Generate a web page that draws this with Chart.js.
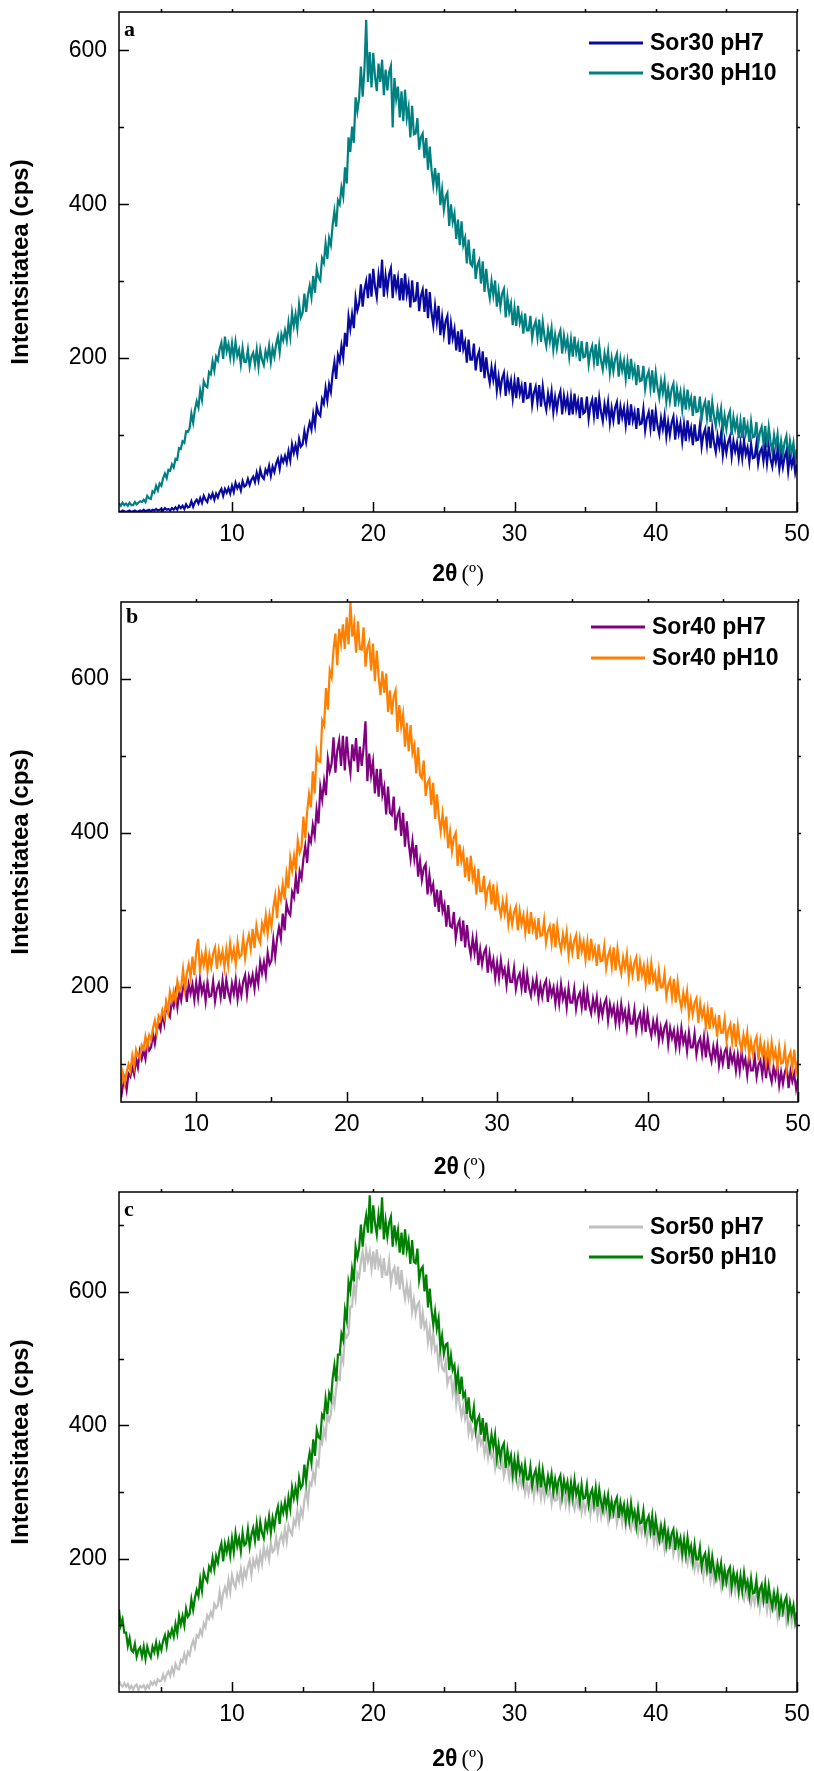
<!DOCTYPE html>
<html><head><meta charset="utf-8">
<script src="https://cdn.jsdelivr.net/npm/chart.js@4.4.1/dist/chart.umd.min.js"></script>
<style>
html,body{margin:0;padding:0;background:#fff;}
body{width:814px;height:1771px;position:relative;overflow:hidden;}
.panel{position:absolute;left:0;width:814px;}
canvas{display:block;}
</style></head><body>
<div class="panel" style="top:0;height:590px"><canvas id="ca" width="814" height="590"></canvas></div>
<div class="panel" style="top:590px;height:590px"><canvas id="cb" width="814" height="590"></canvas></div>
<div class="panel" style="top:1180px;height:591px"><canvas id="cc" width="814" height="591"></canvas></div>
<script>
const startAC = 2, startB = 5, step2theta = 0.125;

const sor30pH7 = [
1,0,2,1,0,1,2,0, 1,2,0,1,2,1,3,1, 2,3,1,3,2,4,2,3, 4,2,5,3,4,2,5,3,
6,3,8,5,8,4,10,6, 7,14,7,13,16,11,18,12, 21,16,13,22,18,24,16,24, 19,26,30,21,30,25,31,24,
34,26,38,31,36,28,40,33, 35,43,35,42,46,39,51,41, 55,46,43,55,50,60,47,59, 52,63,69,56,71,65,73,64,
79,67,88,77,87,75,95,85, 88,105,91,106,116,107,127,113, 137,128,125,147,141,161,145,166, 156,180,195,173,204,196,216,201,
233,215,254,238,257,239,278,262, 271,296,267,289,300,278,310,280, 316,293,279,308,291,328,280,307, 288,309,317,278,309,290,304,275,
304,275,310,283,296,266,301,274, 275,299,261,281,289,260,290,252, 286,259,243,268,247,268,230,253, 231,248,255,218,245,226,238,210,
235,208,237,212,221,194,224,198, 198,219,184,202,209,182,209,174, 201,181,168,188,172,187,158,176, 158,174,181,151,174,159,171,148,
170,148,175,154,164,142,169,148, 149,168,139,155,163,142,165,137, 163,144,133,154,140,157,130,149, 133,149,157,127,151,136,149,126,
149,127,154,133,144,122,149,128, 130,150,121,138,146,125,149,121, 148,130,118,140,126,143,116,135, 119,136,143,114,137,123,135,113,
135,113,140,119,130,108,135,114, 115,134,106,122,130,109,133,105, 131,112,101,122,108,125,98,117, 100,116,124,94,117,102,115,92,
114,92,119,98,109,87,114,93, 94,113,85,101,108,87,111,83, 109,90,78,99,85,102,74,93, 77,91,98,72,92,79,90,70,
89,70,93,75,84,65,88,70, 71,88,63,78,83,66,86,63, 85,69,59,78,65,80,56,73, 58,72,79,53,73,60,71,51,
62];

const sor30pH10 = [
11,8,12,9,11,8,12,9, 9,13,10,12,14,13,16,13, 21,18,17,27,25,34,28,37, 34,44,50,44,55,54,62,58,
69,68,83,82,92,90,105,104, 109,128,116,133,144,136,158,146, 170,164,162,182,179,196,184,202, 197,212,220,199,228,209,218,201,
219,200,221,203,211,192,213,195, 195,211,189,202,207,192,211,189, 211,198,191,209,200,216,195,213, 202,218,228,208,231,223,236,223,
246,228,259,242,257,239,270,253, 259,284,260,282,294,279,307,285, 316,305,301,330,324,349,329,356, 347,373,391,371,405,400,422,410,
448,427,487,468,501,480,539,521, 538,579,540,575,640,559,598,552, 597,566,547,583,559,588,542,575, 548,572,580,500,564,537,553,513,
547,508,549,512,526,487,528,491, 492,512,471,487,492,460,486,445, 475,445,425,447,423,441,399,419, 393,410,415,372,400,377,388,355,
380,347,378,347,356,323,354,323, 320,342,303,321,327,297,326,286, 316,292,278,300,282,301,267,287, 267,284,290,253,279,260,271,243,
265,242,268,246,255,232,258,236, 236,255,226,241,248,227,250,221, 247,228,216,237,222,239,211,230, 213,229,236,206,229,213,225,202,
224,202,228,207,218,196,222,201, 202,221,192,208,216,195,218,190, 216,197,185,206,192,209,181,200, 183,199,206,176,199,184,196,173,
195,173,199,178,188,165,191,170, 171,190,160,176,183,161,184,155, 181,162,149,170,155,171,143,161, 144,160,167,137,160,144,156,133,
155,133,159,138,148,125,151,130, 131,150,121,137,144,122,145,117, 143,124,112,133,118,134,106,125, 108,124,131,100,123,108,120,96,
118,96,123,102,113,91,117,97, 98,117,88,104,111,89,112,84, 110,91,79,100,85,101,73,92, 75,91,99,69,92,77,90,67,
82];

const sor40pH7 = [
55,71,81,66,87,83,96,86, 106,95,116,106,117,106,127,117, 121,139,126,142,152,144,165,152, 177,166,161,181,174,192,173,193,
182,199,206,180,203,191,203,183, 205,186,210,192,202,181,206,187, 188,207,181,197,204,186,208,184, 209,193,183,204,191,209,184,203,
189,207,215,190,213,203,215,197, 219,204,232,218,232,215,244,229, 234,261,239,263,277,263,295,273, 308,297,293,323,316,343,321,350,
341,366,383,361,395,388,410,396, 430,412,459,443,467,449,496,480, 490,524,478,507,520,487,526,481, 525,496,478,515,493,523,479,512,
487,511,545,467,503,475,492,451, 483,447,483,449,460,424,460,426, 423,447,403,422,429,396,426,382, 415,386,366,389,366,384,343,363,
339,354,359,320,345,324,333,304, 326,297,325,298,307,278,306,279, 277,297,263,280,286,259,286,251, 280,255,241,263,244,262,228,248,
229,244,250,218,242,224,235,211, 231,211,234,215,223,202,226,206, 206,224,197,211,217,198,219,192, 216,198,188,207,194,210,185,202,
187,202,208,180,202,189,199,178, 198,178,203,184,194,173,198,179, 179,197,171,186,192,173,195,169, 193,175,165,184,170,186,161,178,
163,178,184,156,177,164,174,153, 173,153,177,158,168,147,171,152, 152,170,143,158,165,146,167,141, 165,147,136,155,141,156,130,147,
132,147,153,125,146,133,143,122, 142,122,146,127,137,116,140,121, 121,139,112,127,133,113,134,108, 132,114,103,122,108,124,98,115,
100,115,121,93,115,102,112,91, 111,91,116,97,106,85,110,91, 91,109,83,98,104,85,107,81, 105,87,76,95,82,98,72,89,
74,89,96,68,90,77,87,67,
80];

const sor40pH10 = [
71,88,74,89,99,90,110,96, 118,110,107,124,119,135,121,137, 131,146,156,141,162,157,169,160, 180,167,193,181,194,181,207,195,
199,222,197,217,229,212,239,215, 245,262,218,241,228,246,220,241, 226,243,251,223,247,233,246,225, 248,228,256,237,249,229,257,238,
241,263,237,256,267,249,275,250, 279,264,257,282,272,293,269,293, 278,303,318,289,324,313,333,313, 346,328,367,351,370,351,390,374,
381,421,393,428,450,433,480,451, 505,493,492,546,540,588,560,611, 602,638,659,618,665,646,671,639, 680,645,700,655,672,634,675,639,
638,667,616,640,648,611,646,597, 637,602,579,610,582,607,557,585, 554,577,585,531,566,538,554,512, 543,506,540,504,514,477,511,475,
471,494,448,465,470,436,465,418, 450,421,402,425,402,421,380,401, 376,394,400,357,385,363,375,342, 368,337,370,341,352,320,353,324,
324,344,310,327,334,307,333,299, 326,305,292,311,295,312,281,299, 281,297,304,273,298,281,293,270, 293,269,297,274,284,261,289,266,
267,286,257,272,279,257,282,251, 279,259,247,268,253,271,241,261, 244,260,267,236,262,246,258,235, 258,234,262,240,250,227,255,233,
234,253,224,240,248,226,251,221, 249,229,217,238,224,242,212,232, 215,231,238,207,232,215,227,204, 227,203,230,208,217,194,221,199,
199,217,187,202,209,186,210,179, 206,185,172,192,177,194,163,182, 164,179,185,153,178,161,172,148, 170,145,173,150,159,135,163,140,
140,158,129,144,151,128,152,122, 149,129,117,137,122,140,110,129, 112,128,135,104,129,112,124,101, 123,101,127,106,117,95,121,100,
101,120,92,108,115,94,118,90,
104];

const sor50pH7 = [
17,11,8,13,8,12,5,9, 4,9,11,3,9,7,10,4, 10,6,15,11,16,11,19,16, 17,26,18,26,31,24,36,27,
42,35,34,48,45,57,46,60, 55,69,77,67,85,82,93,86, 103,97,115,110,120,113,132,126, 130,150,131,148,157,146,168,150,
175,163,157,176,167,184,165,183, 173,188,197,176,198,189,201,187, 207,192,217,203,214,199,224,210, 213,232,212,228,236,224,245,226,
250,241,236,258,251,271,253,274, 264,288,303,284,314,310,329,317, 346,340,377,372,394,383,417,407, 417,446,430,455,472,469,505,495,
538,532,537,578,578,612,592,628, 622,646,660,630,663,647,660,635, 661,634,664,639,649,621,651,626, 626,647,613,631,637,611,638,604,
633,607,590,611,591,607,571,589, 567,581,585,545,569,547,555,525, 544,517,538,512,518,491,512,486, 482,496,462,472,474,448,466,432,
453,429,413,429,410,422,389,404, 383,395,398,370,387,372,379,357, 373,352,372,352,358,336,356,336, 335,350,324,336,340,321,340,314,
335,317,307,324,310,323,299,314, 298,312,319,293,313,300,311,291, 310,291,313,295,303,283,305,287, 288,304,280,294,299,281,302,278,
300,283,274,292,279,293,270,286, 271,285,292,266,286,273,284,264, 283,264,286,268,276,257,279,261, 262,278,253,267,272,253,273,249,
271,254,244,261,248,262,238,253, 238,251,256,229,249,235,244,223, 241,222,243,225,232,213,234,216, 216,231,206,219,223,204,224,199,
220,202,192,209,195,208,184,199, 183,196,201,174,193,179,188,167, 185,166,187,169,176,157,178,160, 160,176,150,164,168,150,169,145,
166,149,139,156,143,157,133,148, 133,147,153,126,146,133,143,122, 141,121,143,124,131,111,133,114, 114,130,104,118,122,104,124,99,
104];

const sor50pH10 = [
124,100,109,89,89,69,81,63, 60,72,53,63,67,53,68,50, 68,58,52,68,60,74,57,72, 63,77,85,69,89,83,94,83,
102,88,114,101,114,100,125,113, 117,139,123,141,153,144,169,152, 180,171,166,188,182,201,184,204, 194,213,223,196,222,210,225,205,
230,210,238,219,231,211,239,220, 223,244,218,236,246,227,252,227, 255,239,231,255,243,263,239,261, 247,267,278,252,280,269,285,266,
292,275,307,291,307,290,321,306, 311,341,316,343,359,343,379,354, 393,382,380,416,411,440,417,448, 439,470,490,466,506,506,537,528,
573,558,615,602,634,616,668,652, 666,701,668,698,715,689,745,688, 730,703,686,716,694,742,679,707, 683,704,713,668,700,677,693,659,
689,656,694,663,677,642,678,645, 643,665,618,634,638,601,626,577, 605,573,551,571,545,560,516,534, 507,521,523,483,505,483,490,459,
479,447,473,443,449,417,442,413, 408,427,392,408,414,386,411,376, 404,379,364,386,368,386,351,371, 350,367,373,336,363,344,355,327,
349,326,351,329,339,316,341,319, 319,338,309,325,333,312,335,307, 333,314,303,324,310,327,300,319, 302,318,325,295,318,303,315,292,
314,292,318,297,307,285,311,290, 291,310,281,297,304,283,306,278, 304,285,273,294,279,295,267,286, 269,285,292,261,284,269,281,257,
279,257,283,261,271,249,275,253, 254,272,242,257,264,242,264,235, 260,241,228,249,233,250,221,240, 222,237,244,213,236,220,231,208,
229,206,231,209,219,196,221,199, 199,217,187,202,208,185,207,178, 203,184,171,192,176,193,164,183, 165,181,187,157,180,164,176,152,
174,152,178,156,166,144,170,148, 149,168,138,154,161,139,162,133, 159,140,127,148,132,149,120,139, 121,136,143,112,134,118,130,106,
120];

// ---------- axes / labels ----------
const xMajorTicks = [10, 20, 30, 40, 50];
const xMinorTicksAC = [5, 15, 25, 35, 45];
const xMinorTicksB = [15, 25, 35, 45];
const yMajorTicks = [200, 400, 600];
const yMinorTicksA = [100, 300, 500];
const yMinorTicksB = [100, 300, 500];
const yMinorTicksC = [100, 300, 500, 700];
const seriesNames = {
  a: ['Sor30 pH7', 'Sor30 pH10'],
  b: ['Sor40 pH7', 'Sor40 pH10'],
  c: ['Sor50 pH7', 'Sor50 pH10']
};
const xTitleBold = '2θ', xTitleUnit = '(º)';
const yTitle = 'Intentsitatea (cps)';

// ---------- helpers ----------
function pts(start, vals) {
  return vals.map((v, i) => ({ x: +(start + i * step2theta).toFixed(3), y: v }));
}

const decoPlugin = {
  id: 'deco',
  afterDraw(chart, args, o) {
    const { ctx, chartArea: a, scales: { x, y } } = chart;
    ctx.save();
    ctx.strokeStyle = '#000';
    ctx.lineWidth = 1.5;
    ctx.lineCap = 'butt';
    ctx.strokeRect(a.left, a.top, a.right - a.left, a.bottom - a.top);
    ctx.beginPath();
    const xt = (vals, len) => vals.forEach(v => {
      const p = Math.round(x.getPixelForValue(v)) + 0.5;
      ctx.moveTo(p, a.bottom); ctx.lineTo(p, a.bottom - len);
      ctx.moveTo(p, a.top); ctx.lineTo(p, a.top - 3);
    });
    const yt = (vals, len) => vals.forEach(v => {
      const p = Math.round(y.getPixelForValue(v)) + 0.5;
      ctx.moveTo(a.left, p); ctx.lineTo(a.left + len, p);
      ctx.moveTo(a.right, p); ctx.lineTo(a.right + 3, p);
    });
    xt(o.xMajor, 10); xt(o.xMinor, 5);
    yt(o.yMajor, 10); yt(o.yMinor, 5);
    ctx.stroke();

    // panel letter
    ctx.fillStyle = '#000';
    ctx.font = 'bold 22px "Liberation Serif", "Times New Roman", serif';
    ctx.textAlign = 'left';
    ctx.textBaseline = 'alphabetic';
    ctx.fillText(o.letter, a.left + 5, a.top + o.letterDy);

    // legend
    ctx.font = 'bold 23px "Liberation Sans", Arial, sans-serif';
    ctx.textBaseline = 'middle';
    chart.data.datasets.forEach((ds, i) => {
      const ly = o.legY[i];
      ctx.strokeStyle = ds.borderColor;
      ctx.lineWidth = 3;
      ctx.beginPath();
      ctx.moveTo(o.legX1, ly); ctx.lineTo(o.legX2, ly);
      ctx.stroke();
      ctx.fillStyle = '#000';
      ctx.fillText(ds.label, o.legTx, ly + 1);
    });

    // x-axis title (bold "2θ" + regular "(º)")
    const f1 = 'bold 23px "Liberation Sans", Arial, sans-serif';
    const f2 = '23px "Liberation Serif", "Times New Roman", serif';
    ctx.font = f1; const w1 = ctx.measureText(xTitleBold).width;
    ctx.font = f2; const w2 = ctx.measureText(xTitleUnit).width;
    const gap = 4;
    const cx = (a.left + a.right) / 2;
    const sx = cx - (w1 + gap + w2) / 2;
    ctx.textBaseline = 'middle';
    ctx.font = f1; ctx.fillText(xTitleBold, sx, o.titleY);
    ctx.font = f2; ctx.fillText(xTitleUnit, sx + w1 + gap, o.titleY);
    ctx.restore();
  }
};

function makeChart(id, cfg) {
  const tickFont = { family: '"Liberation Sans", Arial, sans-serif', size: 23, lineHeight: 1 };
  const allX = cfg.xMinor.concat(xMajorTicks).sort((p, q) => p - q);
  const allY = cfg.yMinor.concat(yMajorTicks).sort((p, q) => p - q);
  return new Chart(document.getElementById(id), {
    type: 'line',
    data: {
      datasets: [
        { label: cfg.names[0], data: cfg.d0, borderColor: cfg.c0, order: cfg.o0 },
        { label: cfg.names[1], data: cfg.d1, borderColor: cfg.c1, order: cfg.o1 }
      ]
    },
    options: {
      responsive: false,
      animation: false,
      events: [],
      elements: {
        line: { borderWidth: 2.2, tension: 0, borderJoinStyle: 'miter', fill: false },
        point: { radius: 0 }
      },
      layout: { padding: { left: 0, right: 814 - cfg.right, top: 12, bottom: 0 } },
      plugins: {
        legend: { display: false },
        tooltip: { enabled: false },
        deco: cfg.deco
      },
      scales: {
        x: {
          type: 'linear',
          min: cfg.xmin, max: 50,
          afterFit: s => { s.height = cfg.h - 512; },
          afterBuildTicks: s => { s.ticks = allX.map(v => ({ value: v })); },
          grid: { display: true, drawOnChartArea: false, drawTicks: true, tickLength: 11, color: 'rgba(0,0,0,0)' },
          border: { display: false },
          ticks: {
            autoSkip: false, maxRotation: 0, padding: 0, color: '#000', font: tickFont,
            callback: v => (xMajorTicks.includes(v) ? String(v) : '')
          },
          title: { display: false }
        },
        y: {
          type: 'linear',
          min: cfg.ymin, max: cfg.ymax,
          afterFit: s => { s.width = cfg.left; },
          afterBuildTicks: s => { s.ticks = allY.map(v => ({ value: v })); },
          grid: { display: true, drawOnChartArea: false, drawTicks: true, tickLength: 12, color: 'rgba(0,0,0,0)' },
          border: { display: false },
          ticks: {
            autoSkip: false, padding: 0, color: '#000', font: tickFont,
            callback: v => (yMajorTicks.includes(v) ? String(v) : '')
          },
          title: {
            display: true, text: yTitle, color: '#000',
            font: { family: '"Liberation Sans", Arial, sans-serif', size: 24, weight: 'bold', lineHeight: 1.2 },
            padding: { top: 7, bottom: 0 }
          }
        }
      }
    },
    plugins: [decoPlugin]
  });
}

makeChart('ca', {
  names: seriesNames.a, d0: pts(startAC, sor30pH7), d1: pts(startAC, sor30pH10),
  c0: '#0A0AA0', c1: '#008080', o0: 1, o1: 2,
  xmin: 2, ymin: 0, ymax: 650, left: 119, right: 797, h: 590,
  xMinor: xMinorTicksAC, yMinor: yMinorTicksA,
  deco: { xMajor: xMajorTicks, xMinor: xMinorTicksAC, yMajor: yMajorTicks, yMinor: yMinorTicksA,
          letter: 'a', letterDy: 24, legX1: 589, legX2: 643, legTx: 650, legY: [43, 73], titleY: 575 }
});
makeChart('cb', {
  names: seriesNames.b, d0: pts(startB, sor40pH7), d1: pts(startB, sor40pH10),
  c0: '#800080', c1: '#FF8000', o0: 2, o1: 1,
  xmin: 5, ymin: 50, ymax: 700, left: 121, right: 798, h: 590,
  xMinor: xMinorTicksB, yMinor: yMinorTicksB,
  deco: { xMajor: xMajorTicks, xMinor: xMinorTicksB, yMajor: yMajorTicks, yMinor: yMinorTicksB,
          letter: 'b', letterDy: 21, legX1: 591, legX2: 645, legTx: 652, legY: [37, 68], titleY: 578 }
});
makeChart('cc', {
  names: seriesNames.c, d0: pts(startAC, sor50pH7), d1: pts(startAC, sor50pH10),
  c0: '#C0C0C0', c1: '#008000', o0: 2, o1: 1,
  xmin: 2, ymin: 0, ymax: 750, left: 119, right: 797, h: 591,
  xMinor: xMinorTicksAC, yMinor: yMinorTicksC,
  deco: { xMajor: xMajorTicks, xMinor: xMinorTicksAC, yMajor: yMajorTicks, yMinor: yMinorTicksC,
          letter: 'c', letterDy: 24, legX1: 589, legX2: 643, legTx: 650, legY: [47, 77], titleY: 580 }
});
</script>
</body></html>
